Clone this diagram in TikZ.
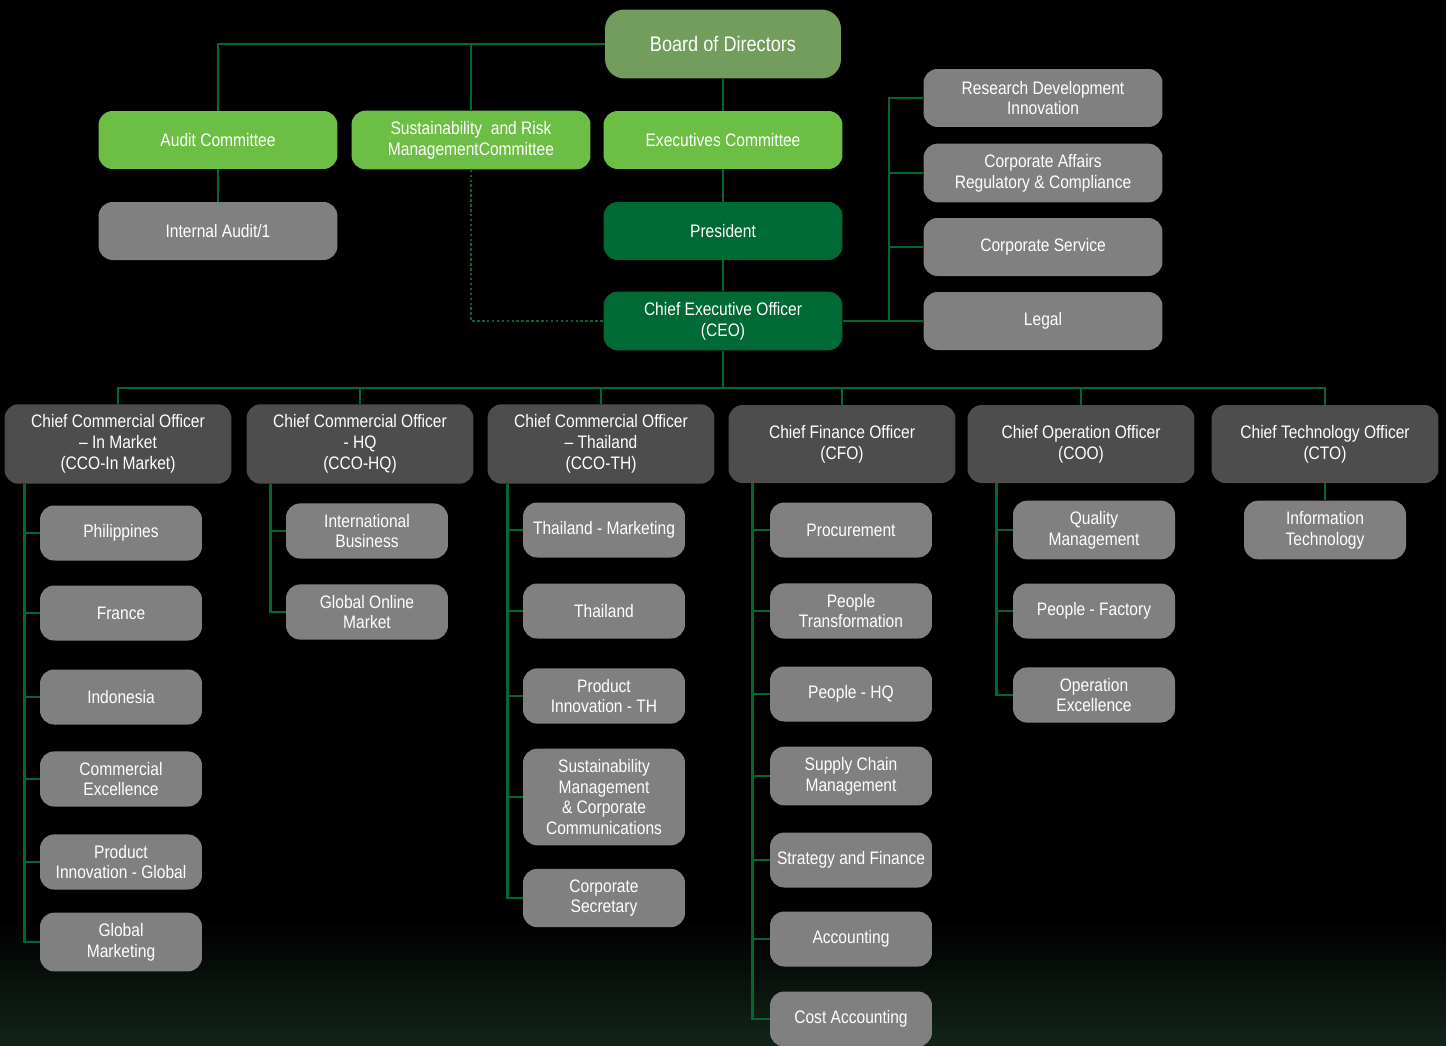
\documentclass[tikz,border=0pt]{standalone}
\usepackage{fontspec}
\setmainfont{Liberation Sans}[FakeStretch=0.86]
\usepackage{tikz}
\usetikzlibrary{positioning,calc}

\definecolor{bodgreen}{RGB}{115,157,92}
\definecolor{comgreen}{RGB}{109,190,69}
\definecolor{exgreen}{RGB}{0,106,52}
\definecolor{linegreen}{RGB}{0,104,48}
\definecolor{unitgray}{RGB}{128,128,128}
\definecolor{chiefgray}{RGB}{77,77,77}

\begin{document}
\begin{tikzpicture}[x=0.02cm,y=-0.02cm,
		box/.style={rounded corners=8pt,text=white,align=center,inner xsep=2pt,inner ysep=6pt,
			font=\fontsize{10.3}{11.8}\selectfont},
		upper/.style={box,minimum width=4.78cm,minimum height=1.16cm},
		committee/.style={upper,fill=comgreen},
		exec/.style={upper,fill=exgreen},
		staff/.style={upper,fill=unitgray},
		chief/.style={box,fill=chiefgray,minimum width=4.54cm,minimum height=1.56cm},
		dept/.style={box,fill=unitgray,minimum width=3.24cm,minimum height=1.1cm},
		link/.style={linegreen,line width=1.6pt}]
	
	% background
	\fill[black] (0,0) rectangle (1446,1045);
	\shade[top color=black,bottom color={rgb,255:red,18;green,36;blue,24}] (0,920) rectangle (1446,1045);
	\useasboundingbox (0,0) rectangle (1446,1045);
	
	% board and committees
	\node[box,fill=bodgreen,minimum width=4.72cm,minimum height=1.38cm,rounded corners=11pt,
		font=\fontsize{12}{13}\selectfont] (board) at (723,44) {Board of Directors};
	\node[committee] (audit) at (218,140) {Audit Committee};
	\node[committee] (srmc) at (471,140) {Sustainability~ and Risk\\ManagementCommittee};
	\node[committee] (exco) at (723,140) {Executives Committee};
	\node[staff] (intaudit) at (218,231) {Internal Audit/1};
	\node[exec] (pres) at (723,231) {President};
	\node[exec] (ceo) at (723,321) {Chief Executive Officer\\(CEO)};
	
	\draw[link] (board.west) -| (audit.north);
	\draw[link] (board.west -| srmc.north) -- (srmc.north);
	\draw[link] (board.south) -- (exco.north);
	\draw[link] (audit.south) -- (intaudit.north);
	\draw[link] (exco.south) -- (pres.north);
	\draw[link] (pres.south) -- (ceo.north);
	\draw[link,dash pattern=on 1.4pt off 1.4pt] (srmc.south) |- (ceo.west);
	
	% functions reporting to the CEO
	\coordinate (rbus) at (889,321);
	\foreach \y/\n/\t in {98/rdi/{Research Development\\Innovation},
		173/cara/{Corporate Affairs\\Regulatory \& Compliance},
		247/csvc/Corporate Service,321/legal/Legal}
	{
		\node[staff] (\n) at (1043,\y) {\t};
		\draw[link] (\n.west) -| (rbus);
	}
	\draw[link] (ceo.east) -- (legal.west);
	
	% chief officers
	\node[chief] (ccoim) at (118,444) {Chief Commercial Officer\\– In Market\\(CCO-In Market)};
	\node[chief] (ccohq) at (360,444) {Chief Commercial Officer\\- HQ\\(CCO-HQ)};
	\node[chief] (ccoth) at (601,444) {Chief Commercial Officer\\– Thailand\\(CCO-TH)};
	\node[chief] (cfo) at (842,444) {Chief Finance Officer\\(CFO)};
	\node[chief] (coo) at (1081,444) {Chief Operation Officer\\(COO)};
	\node[chief] (cto) at (1325,444) {Chief Technology Officer\\(CTO)};
	
	\coordinate (bus) at (723,388);
	\draw[link] (ceo.south) -- (bus);
	\draw[link] (ccoim.north) |- (bus) -| (cto.north);
	\foreach \n in {ccohq,ccoth,cfo,coo}
		\draw[link] (\n.north) -- (\n.north |- bus);
	
	% departments
	\coordinate (imspine) at ($(ccoim.south west)+(20,0)$);
	\foreach \y/\t [count=\i] in {533/Philippines,613/France,697/Indonesia,
		779/{Commercial\\Excellence},862/{Product\\Innovation - Global},942/{Global\\Marketing}}
	{
		\node[dept] (im\i) at (121,\y) {\t};
		\draw[link] (imspine) |- (im\i.west);
	}
	
	\coordinate (hqspine) at ($(ccohq.south west)+(24,0)$);
	\foreach \y/\t [count=\i] in {531/{International\\Business},612/{Global Online\\Market}}
	{
		\node[dept] (hq\i) at (367,\y) {\t};
		\draw[link] (hqspine) |- (hq\i.west);
	}
	
	\coordinate (thspine) at ($(ccoth.south west)+(20,0)$);
	\foreach \y/\t [count=\i] in {530/Thailand - Marketing,611/Thailand,696/{Product\\Innovation - TH},
		797/{Sustainability\\Management\\\& Corporate\\Communications},898/{Corporate\\Secretary}}
	{
		\node[dept] (th\i) at (604,\y) {\t};
		\draw[link] (thspine) |- (th\i.west);
	}
	
	\coordinate (cfospine) at ($(cfo.south west)+(24,0)$);
	\foreach \y/\t [count=\i] in {530/Procurement,611/{People\\Transformation},694/People - HQ,
		776/{Supply Chain\\Management},860/Strategy and Finance,939/Accounting,1019/Cost Accounting}
	{
		\node[dept] (cf\i) at (851,\y) {\t};
		\draw[link] (cfospine) |- (cf\i.west);
	}
	
	\coordinate (coospine) at ($(coo.south west)+(29,0)$);
	\foreach \y/\t [count=\i] in {530/{Quality\\Management},611/People - Factory,695/{Operation\\Excellence}}
	{
		\node[dept] (co\i) at (1094,\y) {\t};
		\draw[link] (coospine) |- (co\i.west);
	}
	
	\node[dept] (it) at (1325,530) {Information\\Technology};
	\draw[link] (cto.south) -- (it.north);
	
\end{tikzpicture}
\end{document}
